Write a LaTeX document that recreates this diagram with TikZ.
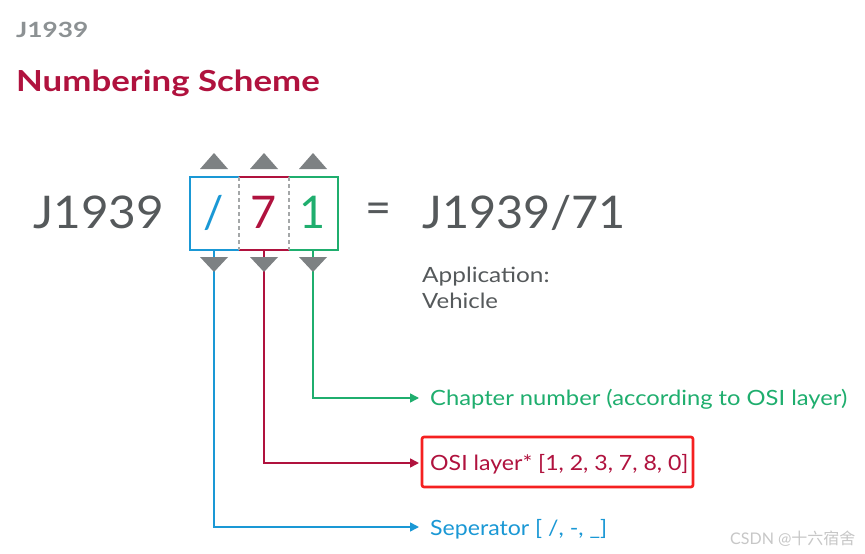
\documentclass[tikz,border=0pt]{standalone}
\usepackage{fontspec}
\setmainfont{Lato}
\newfontfamily\cjkfont{Noto Sans CJK SC}
\usetikzlibrary{arrows.meta}
\definecolor{crimson}{HTML}{B0123E}
\definecolor{tealgreen}{HTML}{1FAE6E}
\definecolor{skyblue}{HTML}{1A98D5}
\definecolor{textgray}{HTML}{55595B}
\definecolor{headgray}{HTML}{8C9193}
\definecolor{markgray}{HTML}{7D8183}
\definecolor{boxred}{HTML}{F52020}
% horizontally widened text
\newcommand{\widetext}[2]{\scalebox{#1}[1]{#2}}
\begin{document}
\begin{tikzpicture}[x=1pt,y=-1pt,
  txt/.style={inner sep=0pt,anchor=base west},
  big/.style={txt,font=\fontsize{45}{50}\selectfont,text=textgray},
  label/.style={txt,font=\fontsize{21}{24}\selectfont},
  cellchar/.style={inner sep=0pt,anchor=base,font=\fontsize{45}{50}\selectfont},
  marker/.style={fill=markgray,draw=none},
  lead/.style={line width=1.6pt,-{Triangle[length=9pt,width=9pt]}},
  divider/.style={markgray!70,line width=1.2pt,dash pattern=on 4pt off 3pt}
]
\useasboundingbox (0,0) rectangle (865,554);
\fill[white] (0,0) rectangle (865,554);

% headings
\node[txt,font=\bfseries\fontsize{21}{23}\selectfont,text=headgray] (head) at (16,37) {\widetext{1.25}{J1939}};
\node[txt,font=\bfseries\fontsize{29}{32}\selectfont,text=crimson] (title) at (16,91) {\widetext{1.2}{Numbering Scheme}};

% standard designation
\node[big] (prefix) at (33,228) {\widetext{1.06}{J1939}};

% the three cells
\draw[skyblue,line width=1.3pt] (239,177) -- (190,177) -- (190,250) -- (239,250);
\draw[crimson,line width=1.3pt] (239,177) -- (289,177) (239,250) -- (289,250);
\draw[tealgreen,line width=1.3pt] (289,177) -- (338,177) -- (338,250) -- (289,250);
\draw[divider] (239,177) -- (239,250);
\draw[divider] (289,177) -- (289,250);
\node[cellchar,text=skyblue] (sep) at (214,228) {/};
\node[cellchar,text=crimson] (layer) at (264,228) {7};
\node[cellchar,text=tealgreen] (chap) at (313,228) {1};

% up markers
\foreach \cx in {214,264,313}{
  \fill[marker] (\cx-14,169) -- (\cx+14,169) -- (\cx,153) -- cycle;
}

% equation result
\node[inner sep=0pt,font=\fontsize{45}{50}\selectfont,text=textgray] (eq) at (379,213) {=};
\node[big] (full) at (422,228) {\widetext{1.04}{J1939/71}};
\node[label,text=textgray] (app) at (422,282) {\widetext{1.16}{Application:}};
\node[label,text=textgray] (veh) at (422,308) {\widetext{1.14}{Vehicle}};

% explanations
\node[label,text=tealgreen] (chaptxt) at (430,405) {\widetext{1.13}{Chapter number (according to OSI layer)}};
\node[label,text=crimson] (ositxt) at (430,470) {\widetext{1.1}{OSI layer* [1, 2, 3, 7, 8, 0]}};
\node[label,text=skyblue] (septxt) at (430,535) {\widetext{1.1}{Seperator [ /, -, \_]}};
\draw[boxred,line width=2.6pt,rounded corners=2pt] (422,437) rectangle (693,487);

% leader lines from the cells to their explanations
\coordinate (s1) at (214,250);
\coordinate (s2) at (264,250);
\coordinate (s3) at (313,250);
\coordinate (e1) at (419,527);
\coordinate (e2) at (419,463);
\coordinate (e3) at (419,398);
\draw[lead,skyblue] (s1) |- (e1);
\draw[lead,crimson] (s2) |- (e2);
\draw[lead,tealgreen] (s3) |- (e3);
% down markers
\foreach \cx in {214,264,313}{
  \fill[marker] (\cx-14,257) -- (\cx+14,257) -- (\cx,272) -- cycle;
}

% watermark
\node[txt,font=\fontsize{16}{18}\selectfont,text=black!22] (mark) at (730,544) {CSDN @\cjkfont 十六宿舍};
\end{tikzpicture}
\end{document}
